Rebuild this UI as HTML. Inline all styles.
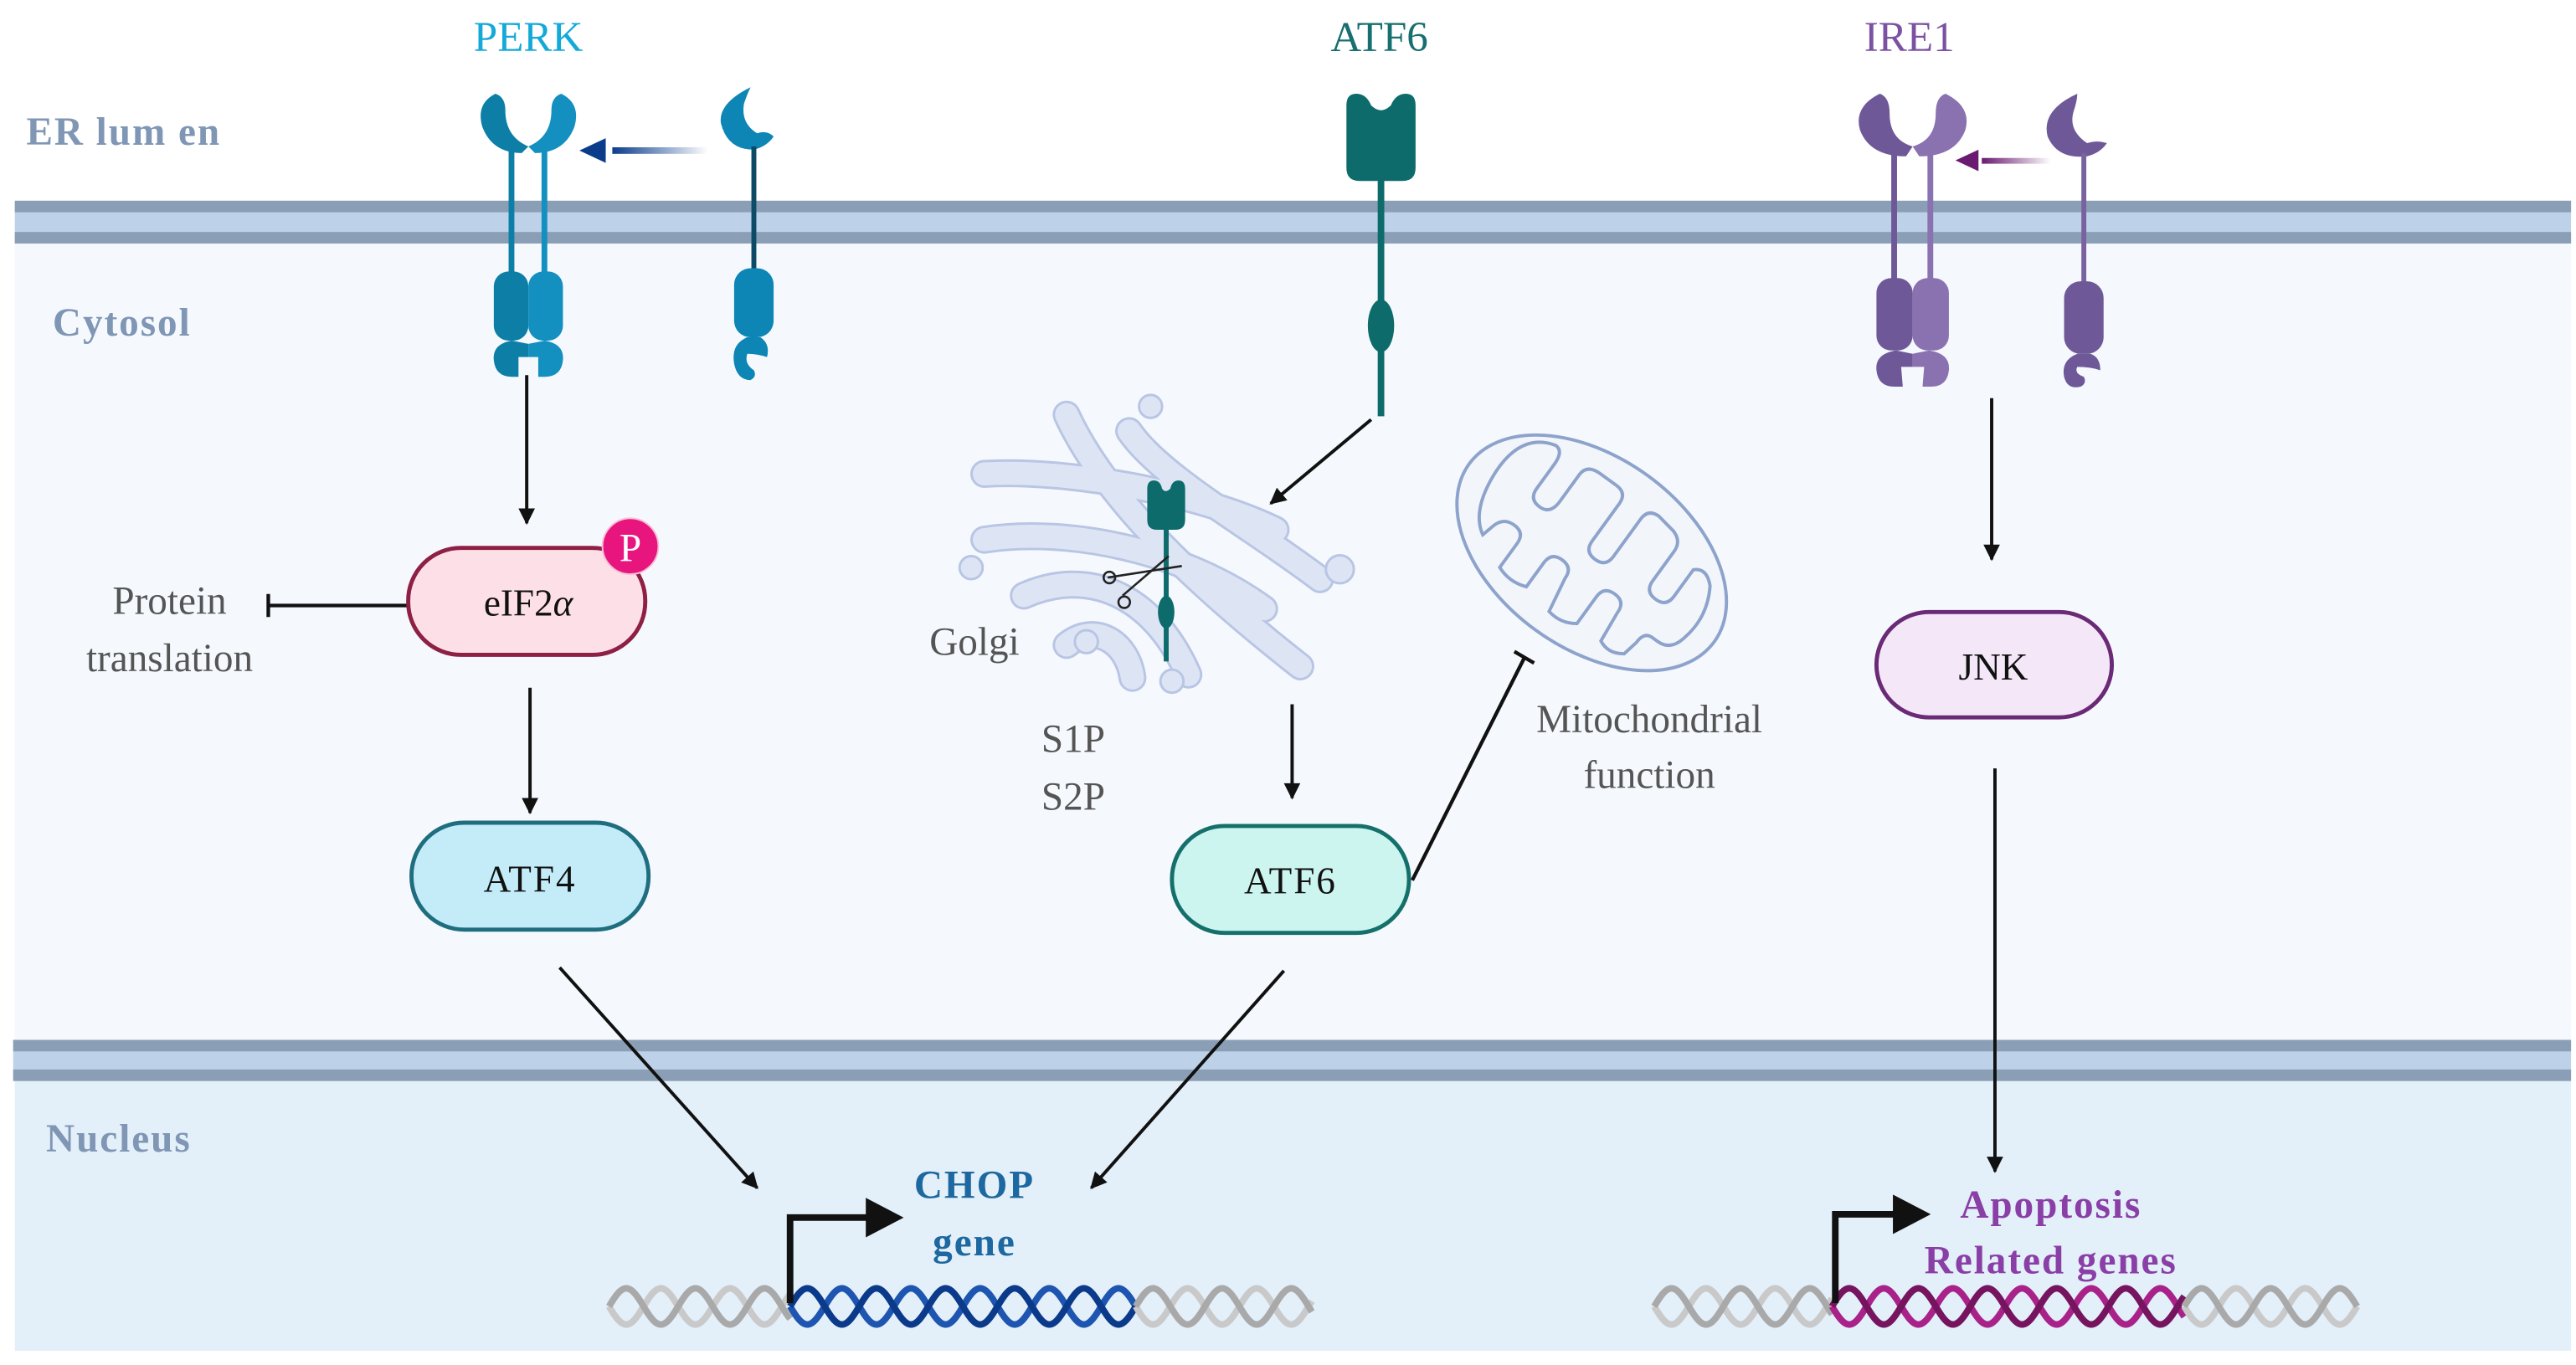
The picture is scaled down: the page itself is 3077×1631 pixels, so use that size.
<!DOCTYPE html>
<html><head><meta charset="utf-8"><style>
html,body{margin:0;padding:0;background:#fff}
svg{display:block}
text{font-family:"Liberation Serif",serif}
</style></head><body>
<svg id="s" width="3077" height="1631" viewBox="0 0 1565 829.6" preserveAspectRatio="none" xmlns="http://www.w3.org/2000/svg">
<defs>
<marker id="ah" viewBox="0 0 10 10" refX="9" refY="5" markerWidth="11" markerHeight="10" orient="auto" markerUnits="userSpaceOnUse">
<path d="M0,0 L10,5 L0,10 Z" fill="#111"/></marker>
<linearGradient id="gb" x1="0" x2="1"><stop offset="0" stop-color="#0b3c8c"/><stop offset="1" stop-color="#0b3c8c" stop-opacity="0"/></linearGradient>
<linearGradient id="gp" x1="0" x2="1"><stop offset="0" stop-color="#6a1a70"/><stop offset="1" stop-color="#6a1a70" stop-opacity="0"/></linearGradient>
</defs>
<rect x="9" y="148" width="1553" height="486" fill="#f5f9fd"/>
<rect x="9" y="657" width="1553" height="164" fill="#e3eff9"/>
<rect x="9" y="122" width="1553" height="26" fill="#bdd2e8"/>
<rect x="9" y="122" width="1553" height="7" fill="#8a9fb6"/>
<rect x="9" y="141" width="1553" height="7" fill="#8a9fb6"/>
<rect x="8" y="632" width="1554" height="25" fill="#bdd2e8"/>
<rect x="8" y="632" width="1554" height="7" fill="#8a9fb6"/>
<rect x="8" y="650" width="1554" height="7" fill="#8a9fb6"/>

<g font-weight="bold" fill="#7f96b5" font-size="24" letter-spacing="1">
<text x="16" y="88">ER lum en</text>
<text x="32" y="204">Cytosol</text>
<text x="28" y="700">Nucleus</text>
</g>
<g font-size="26" text-anchor="middle">
<text x="321" y="31" fill="#14a9d8">PERK</text>
<text x="838" y="31" fill="#176f70">ATF6</text>
<text x="1160" y="31" fill="#7b52a3">IRE1</text>
</g>

<g transform="translate(321,57)">
<path d="M-20,0 Q-32,6 -28,20 Q-22,36 -4,36 L0,32 Q-14,26 -14,10 Q-14,2 -20,0Z" fill="#0d7ea6"/>
<path d="M20,0 Q32,6 28,20 Q22,36 4,36 L0,32 Q14,26 14,10 Q14,2 20,0Z" fill="#1390bf"/>
<rect x="-12" y="34" width="3.5" height="76" fill="#0d7ea6"/>
<rect x="8" y="34" width="3.5" height="76" fill="#1390bf"/>
<rect x="-21" y="108" width="21" height="42" rx="9" fill="#0d7ea6"/>
<rect x="0" y="108" width="21" height="42" rx="9" fill="#1390bf"/>
<path d="M0,152 L-10,150 Q-22,152 -21,162 Q-20,172 -10,172 L-6,172 L-6,160 L0,160Z" fill="#0d7ea6"/>
<path d="M0,152 L10,150 Q22,152 21,162 Q20,172 10,172 L6,172 L6,160 L0,160Z" fill="#1390bf"/>
</g>
<g transform="translate(458,53)">
<path d="M-2,0 Q-22,10 -20,22 Q-16,38 0,38 Q8,36 12,30 Q8,26 2,28 Q-8,22 -6,10 Q-4,4 -2,0Z" fill="#0d86b5"/>
<rect x="-1.5" y="36" width="3" height="76" fill="#0c4a66"/>
<rect x="-12" y="110" width="24" height="42" rx="10" fill="#0d86b5"/>
<path d="M-4,152 Q-14,156 -12,168 Q-10,178 -2,178 Q2,176 0,172 Q-6,168 -4,162 Q2,162 8,164 Q10,156 4,152Z" fill="#0d86b5"/>
</g>
<rect x="372" y="89.5" width="58" height="4" fill="url(#gb)"/>
<path d="M352,91.5 L368,84 L368,99Z" fill="#0b3c8c"/>

<g fill="#0d6b6b">
<path d="M818,64 Q818,57 824,57 Q830,57 833,64 Q839,70 845,64 Q848,57 854,57 Q860,57 860,64 L860,102 Q860,110 852,110 L826,110 Q818,110 818,102Z"/>
<rect x="837" y="108" width="4" height="145"/>
<ellipse cx="839" cy="198" rx="8" ry="16"/>
</g>

<g transform="translate(1162,57)">
<path d="M-20,0 Q-36,8 -32,22 Q-26,38 -4,38 L0,32 Q-14,28 -14,12 Q-14,2 -20,0Z" fill="#6e5898"/>
<path d="M20,0 Q36,8 32,22 Q26,38 4,38 L0,32 Q14,28 14,12 Q14,2 20,0Z" fill="#8a72b0"/>
<rect x="-13" y="36" width="3.5" height="78" fill="#6e5898"/>
<rect x="9" y="36" width="3.5" height="78" fill="#8a72b0"/>
<rect x="-22" y="112" width="22" height="44" rx="9" fill="#6e5898"/>
<rect x="0" y="112" width="22" height="44" rx="9" fill="#8a72b0"/>
<path d="M0,158 L-10,156 Q-23,158 -22,168 Q-21,178 -11,178 L-6,178 L-7,166 L0,166Z" fill="#6e5898"/>
<path d="M0,158 L10,156 Q23,158 22,168 Q21,178 11,178 L6,178 L7,166 L0,166Z" fill="#8a72b0"/>
</g>
<g transform="translate(1266,57)">
<path d="M-4,0 Q-26,10 -22,26 Q-16,40 2,38 Q10,36 14,30 Q8,28 2,30 Q-10,22 -6,10 Q-4,4 -4,0Z" fill="#6e5898"/>
<rect x="-1.5" y="36" width="3" height="80" fill="#7a62a0"/>
<rect x="-12" y="114" width="24" height="44" rx="10" fill="#6e5898"/>
<path d="M-4,158 Q-14,162 -12,172 Q-10,180 -2,178 Q2,176 0,172 Q-6,170 -4,166 Q4,166 10,168 Q10,160 4,158Z" fill="#6e5898"/>
</g>
<rect x="1204" y="96" width="42" height="3.5" fill="url(#gp)"/>
<path d="M1188,97.5 L1202,91 L1202,104Z" fill="#6a1a70"/>

<!-- Golgi -->
<g fill="none" stroke-linecap="round">
<g stroke="#b8c5e4" stroke-width="17">
<path d="M648,252 C670,300 720,350 790,405"/>
<path d="M598,288 C650,285 730,300 775,322"/>
<path d="M598,328 C650,320 720,335 768,370"/>
<path d="M622,362 C660,345 700,360 722,410"/>
<path d="M686,262 C705,290 760,320 802,352"/>
<path d="M648,392 C665,378 685,390 688,412"/>
</g>
<g stroke="#dde5f5" stroke-width="14">
<path d="M648,252 C670,300 720,350 790,405"/>
<path d="M598,288 C650,285 730,300 775,322"/>
<path d="M598,328 C650,320 720,335 768,370"/>
<path d="M622,362 C660,345 700,360 722,410"/>
<path d="M686,262 C705,290 760,320 802,352"/>
<path d="M648,392 C665,378 685,390 688,412"/>
</g>
</g>
<g fill="#dde5f5" stroke="#b8c5e4" stroke-width="1.5">
<circle cx="699" cy="247" r="7"/><circle cx="590" cy="345" r="7"/><circle cx="814" cy="346" r="8.5"/>
<circle cx="660" cy="390" r="7"/><circle cx="712" cy="414" r="7"/>
</g>
<g fill="#0d6b6b">
<path d="M697,297 Q697,292 701,292 Q705,292 706,297 Q708,300 711,297 Q712,292 716,292 Q720,292 720,297 L720,316 Q720,322 714,322 L703,322 Q697,322 697,316Z"/>
<rect x="707" y="320" width="3" height="82"/>
<ellipse cx="708.5" cy="372" rx="5" ry="10"/>
</g>
<g stroke="#222" stroke-width="1.3" fill="none">
<line x1="673" y1="351" x2="718" y2="344"/>
<line x1="710" y1="338" x2="682" y2="362"/>
<circle cx="674" cy="351" r="3.5"/><circle cx="683" cy="366" r="3.5"/>
</g>

<g transform="translate(967,336) rotate(36)">
<ellipse rx="92" ry="58" fill="#f2f6fb" stroke="#8ea3cc" stroke-width="2"/>
<path d="M-76,-4 Q-78,-34 -56,-40 Q-50,-40 -50,-30 L-50,-12 Q-50,-4 -42,-4 Q-34,-4 -34,-14 L-34,-34 Q-34,-42 -24,-42 L-12,-42 Q-4,-42 -4,-34 L-4,-6 Q-4,2 4,2 Q12,2 12,-6 L12,-34 Q12,-42 20,-42 L32,-40 Q40,-38 40,-30 L40,-8 Q40,0 48,0 Q56,0 56,-8 L56,-28 Q62,-34 70,-26 Q80,-10 76,8 Q74,20 64,20 L60,20 Q54,20 54,28 L52,38 Q44,44 36,40 L34,20 Q34,12 26,12 Q18,12 18,20 L18,40 Q10,46 0,44 L-4,22 Q-4,14 -12,14 Q-20,14 -20,22 L-20,40 Q-30,44 -40,40 L-40,22 Q-40,14 -48,14 Q-56,14 -58,22 L-60,30 Q-74,22 -76,-4Z" fill="none" stroke="#8ea3cc" stroke-width="2"/>
</g>

<g fill="#555" font-size="24" text-anchor="middle">
<text x="103" y="373">Protein</text>
<text x="103" y="408">translation</text>
<text x="592" y="398">Golgi</text>
<text x="652" y="457">S1P</text>
<text x="652" y="492">S2P</text>
<text x="1002" y="445">Mitochondrial</text>
<text x="1002" y="479">function</text>
</g>

<g stroke="#111" stroke-width="2" fill="none" marker-end="url(#ah)">
<line x1="320" y1="228" x2="320" y2="318"/>
<line x1="322" y1="418" x2="322" y2="494"/>
<line x1="340" y1="588" x2="460" y2="722"/>
<line x1="833" y1="255" x2="772" y2="306"/>
<line x1="785" y1="428" x2="785" y2="485"/>
<line x1="780" y1="590" x2="663" y2="722"/>
<line x1="1210" y1="242" x2="1210" y2="340"/>
<line x1="1212" y1="467" x2="1212" y2="712"/>
</g>
<g stroke="#111" stroke-width="2.2">
<line x1="248" y1="368" x2="163" y2="368"/><line x1="163" y1="361" x2="163" y2="375"/>
<line x1="858" y1="535" x2="926" y2="400"/><line x1="920" y1="396" x2="932" y2="403"/>
</g>

<rect x="248" y="333" width="144" height="65" rx="32" fill="#fde0e7" stroke="#8e1f45" stroke-width="2.5"/>
<text x="321" y="374" font-size="23" text-anchor="middle" fill="#111">eIF2<tspan font-style="italic">α</tspan></text>
<circle cx="383" cy="332" r="17" fill="#e8157f" stroke="#f7c0d8" stroke-width="1"/>
<text x="383" y="341" font-size="24" fill="#fff" text-anchor="middle" font-family="Liberation Sans">P</text>
<rect x="250" y="500" width="144" height="65" rx="32" fill="#c3ecf8" stroke="#1f6e80" stroke-width="2.5"/>
<text x="322" y="542" font-size="23" text-anchor="middle" fill="#111" letter-spacing="1">ATF4</text>
<rect x="712" y="502" width="144" height="65" rx="32" fill="#cdf5f0" stroke="#15706b" stroke-width="2.5"/>
<text x="784" y="543" font-size="23" text-anchor="middle" fill="#111" letter-spacing="1">ATF6</text>
<rect x="1140" y="372" width="143" height="64" rx="32" fill="#f4e8f8" stroke="#6a2a76" stroke-width="2.5"/>
<text x="1211" y="413" font-size="23" text-anchor="middle" fill="#111">JNK</text>

<g id="dna" fill="none" stroke-width="4"></g>
<g stroke="#111" stroke-width="4" fill="none">
<polyline points="480,792 480,740 528,740"/>
<polyline points="1115,792 1115,738 1152,738"/>
</g>
<path d="M526,728 L549,740 L526,752Z" fill="#111"/>
<path d="M1150,726 L1173,738 L1150,750Z" fill="#111"/>
<g font-weight="bold" font-size="24" text-anchor="middle" letter-spacing="1">
<text x="592" y="728" fill="#1d68a0">CHOP</text>
<text x="592" y="763" fill="#1d68a0">gene</text>
<text x="1246" y="740" fill="#8a3fa6">Apoptosis</text>
<text x="1246" y="774" fill="#8a3fa6">Related genes</text>
</g>
</svg>
<script>
(function(){
var g=document.getElementById('dna');
function helix(x0,x1,c1,c2){
 var yc=794,A=11,P=42;
 [[0,c1],[P/2,c2]].forEach(function(o){
  var d='';for(var x=x0;x<=x1;x+=1){var y=yc+A*Math.sin(2*Math.PI*(x-x0+o[0])/P);d+=(x==x0?'M':'L')+x+','+y.toFixed(2);}
  var p=document.createElementNS('http://www.w3.org/2000/svg','path');p.setAttribute('d',d);p.setAttribute('stroke',o[1]);g.appendChild(p);
 });
}
helix(370,480,'#c9c9c9','#a9a9a9');helix(480,690,'#1d55b0','#0b3a8a');helix(690,797,'#c9c9c9','#a9a9a9');
helix(1005,1113,'#c9c9c9','#a9a9a9');helix(1113,1327,'#a8228a','#76145f');helix(1327,1432,'#c9c9c9','#a9a9a9');
})();
</script>
</body></html>
